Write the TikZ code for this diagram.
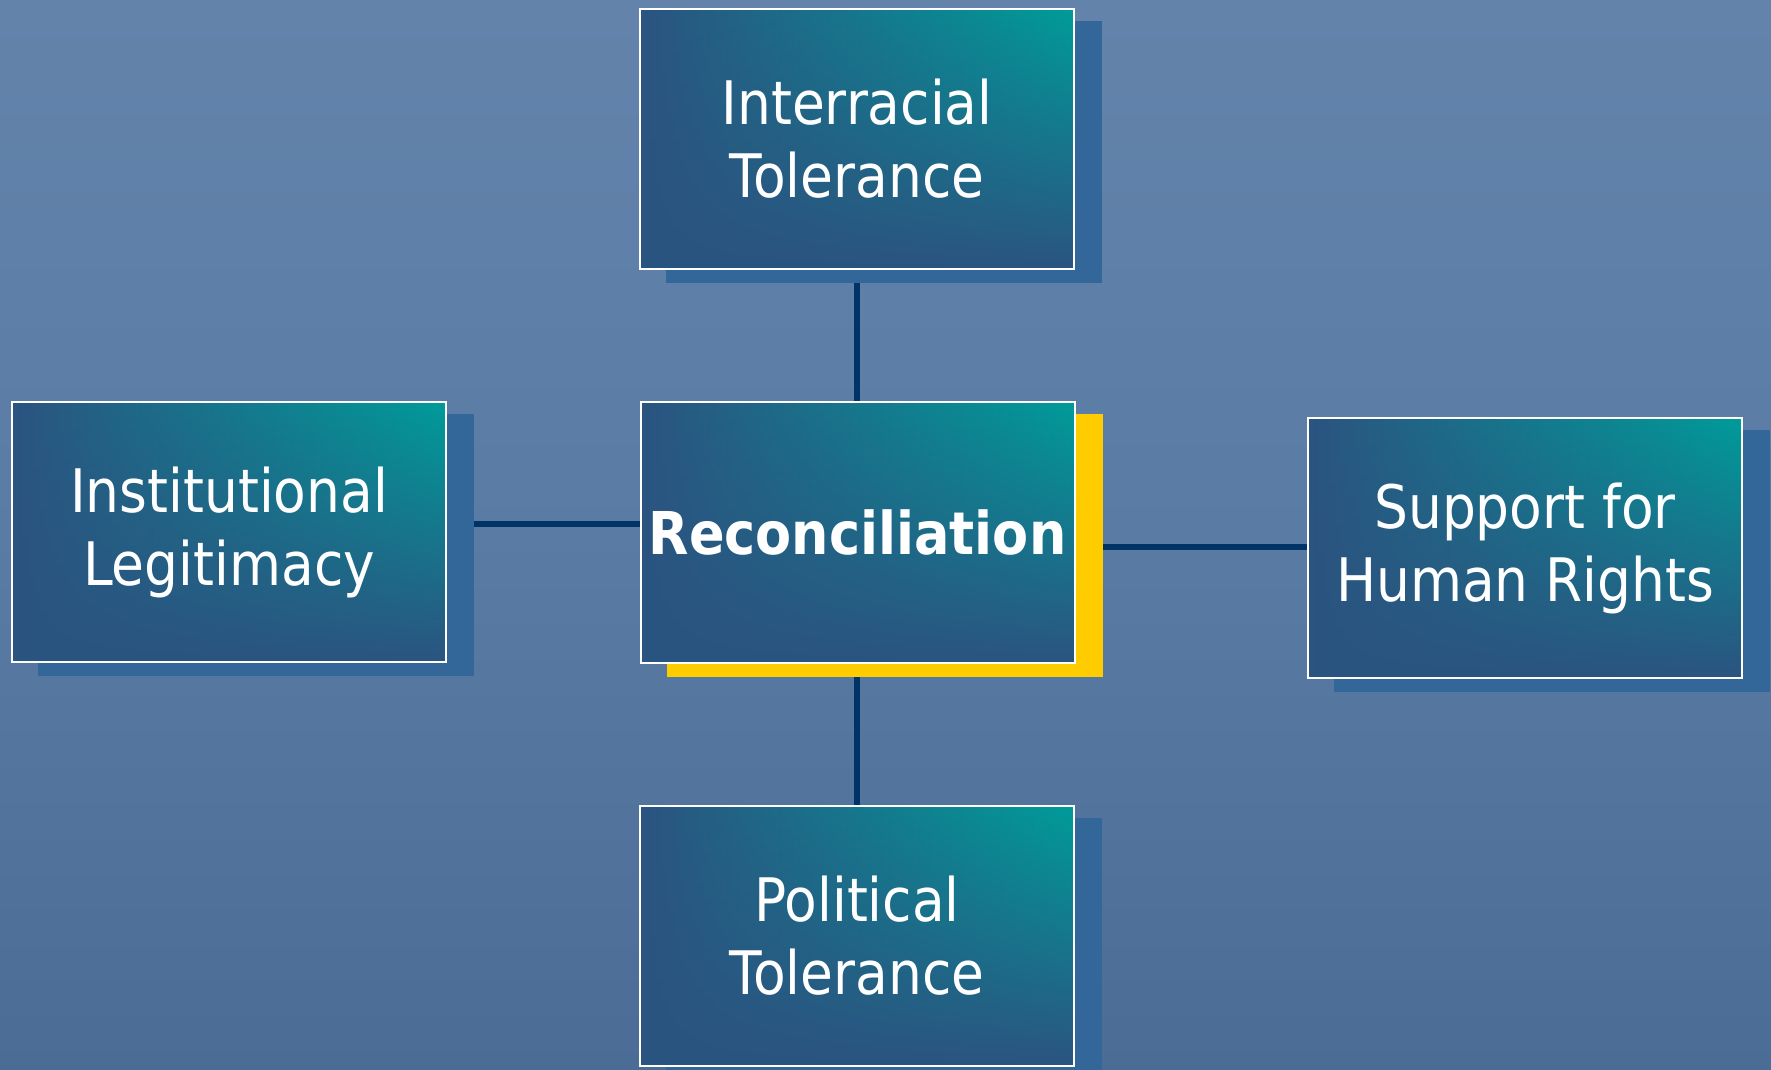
\documentclass[tikz,border=0pt]{standalone}
\usepackage{fontspec}
\setmainfont{DejaVu Sans}[FakeStretch=0.89]
\usetikzlibrary{fadings}
\definecolor{bgtop}{HTML}{6383AB}
\definecolor{bgmid}{HTML}{5A7CA4}
\definecolor{bgbot}{HTML}{4A6C95}
\definecolor{boxdark}{HTML}{2B5480}
\definecolor{boxmid}{HTML}{237585}
\definecolor{boxteal}{HTML}{009C9A}
\definecolor{shadowblue}{HTML}{336699}
\definecolor{shadowyellow}{HTML}{FFCC00}
\definecolor{connnavy}{HTML}{003366}
\pgfdeclarelayer{back}
\pgfdeclarelayer{shadowlayer}
\pgfsetlayers{back,shadowlayer,main}
\tikzfading[name=fadeup, top color=transparent!100, middle color=transparent!75, bottom color=transparent!0]
\tikzset{
  gbox/.style={rectangle, draw=white, line width=1pt, minimum width=217pt, minimum height=130pt,
    inner sep=0pt, align=center, text=white,
    font=\fontsize{30}{36.5}\selectfont,
    path picture={
      \shade[left color=boxdark, middle color=boxmid, right color=boxteal]
        (path picture bounding box.south west) rectangle (path picture bounding box.north east);
      \fill[boxdark, path fading=fadeup]
        (path picture bounding box.south west) rectangle (path picture bounding box.north east);
    }},
  conn/.style={draw=connnavy, line width=3pt},
  shadowfill/.style={fill=shadowblue},
}
\begin{document}
\begin{tikzpicture}[x=0.5pt,y=-0.5pt]
\useasboundingbox (0,0) rectangle (1771,1070);
\begin{pgfonlayer}{back}
  \shade[top color=bgtop, bottom color=bgbot, middle color=bgmid] (0,0) rectangle (1771,1070);
\end{pgfonlayer}

\node[gbox] (top) at (857,139) {Interracial\\Tolerance};
\node[gbox, minimum height=130.5pt, font=\fontsize{29.5}{36}\selectfont\bfseries] (center) at (857.5,532.5) {Reconciliation};
\node[gbox] (left) at (229,532) {Institutional\\Legitimacy};
\node[gbox] (right) at (1525,548) {Support for\\Human Rights};
\node[gbox] (bottom) at (857,935.5) {Political\\Tolerance};

\coordinate (lc) at (0,524);
\coordinate (rc) at (0,547);

\begin{pgfonlayer}{shadowlayer}
  \draw[conn] (top.south) -- (top.south |- center.north);
  \draw[conn] (bottom.north |- center.south) -- (bottom.north);
  \draw[conn] (left.east |- lc) -- (center.west |- lc);
  \draw[conn] (center.east |- rc) -- (right.west |- rc);
  \foreach \n in {top,left,right,bottom}{
    \fill[shadowfill] ([shift={(27,13)}]\n.north west) rectangle ([shift={(27,13)}]\n.south east);
  }
  \fill[shadowyellow] ([shift={(27,13)}]center.north west) rectangle ([shift={(27,13)}]center.south east);
\end{pgfonlayer}
\end{tikzpicture}
\end{document}
